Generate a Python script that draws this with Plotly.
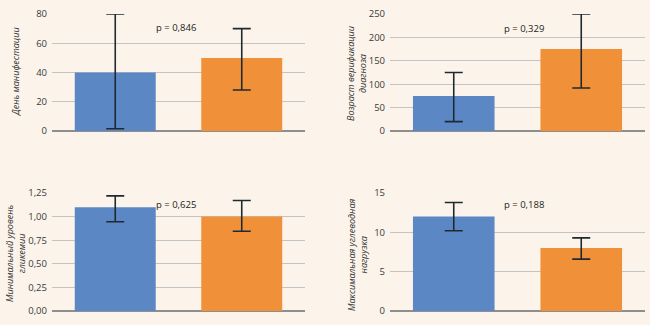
import plotly.graph_objects as go

groups = ["Группа 1", "Группа 2"]
colors = ["#5B87C5", "#F0913A"]

# panel data: means, upper errors, lower errors
p1_vals = [40, 50]
p1_up = [40, 20]
p1_lo = [38.5, 22]

p2_vals = [75, 175]
p2_up = [50, 75]
p2_lo = [55, 83]

p3_vals = [1.10, 1.00]
p3_up = [0.12, 0.17]
p3_lo = [0.155, 0.155]

p4_vals = [12, 8]
p4_up = [1.8, 1.3]
p4_lo = [1.8, 1.4]

titles = ["День манифестации", "Возраст верификации<br>диагноза",
          "Минимальный уровень<br>гликемии", "Максимальная углеводная<br>нагрузка"]
p_texts = ["p = 0,846", "p = 0,329", "p = 0,625", "p = 0,188"]
y_ranges = [[0, 80], [0, 250], [0, 1.25], [0, 15]]
y_dticks = [20, 50, 0.25, 5]
y_formats = ["d", "d", ".2f", "d"]
p_pos = [(0.48, 70.5), (0.55, 220), (0.48, 1.123), (0.55, 13.5)]

W, H = 650, 325
x_doms = [[52 / W, 305 / W], [390 / W, 645 / W], [52 / W, 305 / W], [390 / W, 645 / W]]
y_doms = [[1 - 131 / H, 1 - 14 / H], [1 - 131 / H, 1 - 14 / H],
          [1 - 311 / H, 1 - 193 / H], [1 - 311 / H, 1 - 193 / H]]
title_pos = [(15, 72), (357, 74), (15, 253), (357, 255)]

data = [(p1_vals, p1_up, p1_lo), (p2_vals, p2_up, p2_lo),
        (p3_vals, p3_up, p3_lo), (p4_vals, p4_up, p4_lo)]

fig = go.Figure()
font_family = "Open Sans, Noto Sans, sans-serif"
bg = "#FCF4EA"
annotations = []
for i, (vals, up, lo) in enumerate(data):
    sfx = "" if i == 0 else str(i + 1)
    for j in range(2):
        fig.add_trace(go.Bar(
            x=[j], y=[vals[j]], marker=dict(color=colors[j], line=dict(width=0)),
            width=0.64,
            error_y=dict(type="data", symmetric=False, array=[up[j]], arrayminus=[lo[j]],
                         color="#1f2a30", thickness=1.6, width=9),
            xaxis="x" + sfx, yaxis="y" + sfx, showlegend=False, name=groups[j],
        ))
    fig.layout["xaxis" + sfx] = dict(
        domain=x_doms[i], range=[-0.5, 1.5], showticklabels=False, showgrid=False,
        zeroline=False, showline=False, anchor="y" + sfx, fixedrange=True,
        automargin=False)
    fig.layout["yaxis" + sfx] = dict(
        domain=y_doms[i], range=y_ranges[i], dtick=y_dticks[i], tickformat=y_formats[i],
        showgrid=True, gridcolor="#C4C4C4", gridwidth=1.3, zeroline=True,
        zerolinecolor="#8E8E8E", zerolinewidth=1.6, showline=False, anchor="x" + sfx,
        ticks="", ticklabelstandoff=4, automargin=False,
        tickfont=dict(family=font_family, size=9.5, color="#3a3a3a"))
    px, py = p_pos[i]
    annotations.append(dict(
        x=px, y=py, xref="x" + sfx, yref="y" + sfx, text=p_texts[i],
        showarrow=False, font=dict(family=font_family, size=9.5, color="#222222")))
    tx, ty = title_pos[i]
    annotations.append(dict(
        x=tx / W, y=1 - ty / H, xref="paper", yref="paper", text=titles[i],
        xanchor="center", yanchor="middle",
        textangle=-90, showarrow=False, align="center",
        font=dict(family=font_family, size=9, color="#333333", style="italic")))

fig.update_layout(
    width=W, height=H, margin=dict(l=0, r=0, t=0, b=0, autoexpand=False),
    paper_bgcolor=bg, plot_bgcolor=bg, barmode="overlay",
    separators=", ", annotations=annotations,
)
fig.write_html("out.html")
